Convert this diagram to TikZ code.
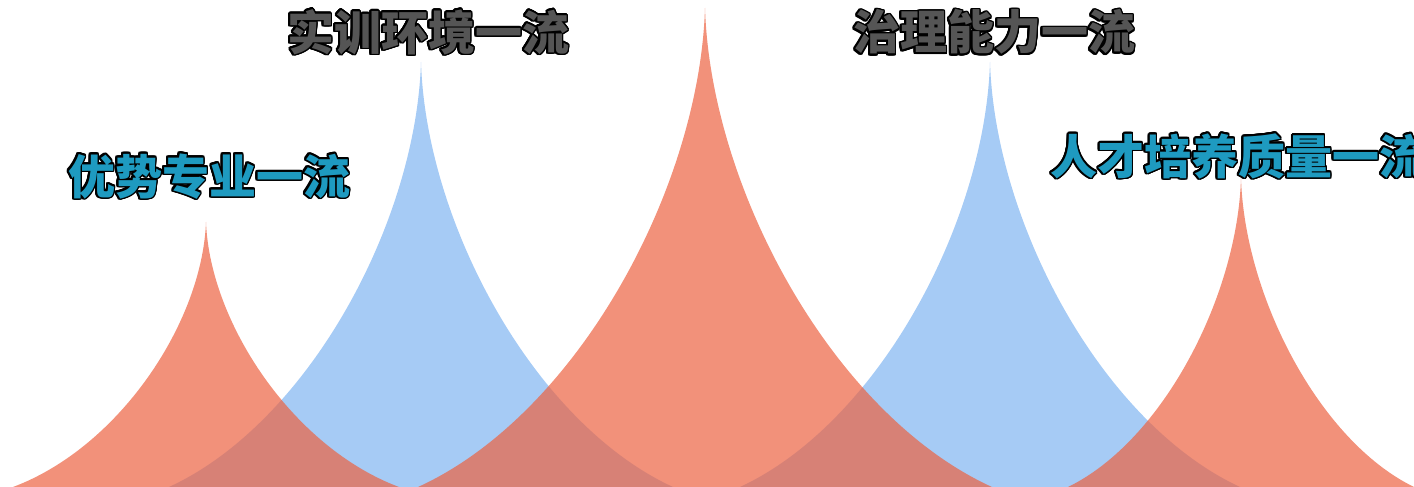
\documentclass[tikz,border=0pt]{standalone}
\usepackage{fontspec}
\usepackage[copies]{contour}
\newfontfamily\cjk{Noto Sans CJK SC}
\contourlength{1.6pt}
\contournumber{24}
\definecolor{peakred}{HTML}{EC6241}
\definecolor{peakblue}{HTML}{A6CBF5}
\definecolor{labelteal}{HTML}{1E9AC0}
\definecolor{labelgray}{HTML}{555555}

\begin{document}
\begin{tikzpicture}[x=1pt, y=1pt,
    redpeak/.style={fill=peakred, fill opacity=0.7},
    bluepeak/.style={fill=peakblue},
    title/.style={font=\cjk\bfseries\fontsize{47}{50}\selectfont, inner sep=0pt}]
    \useasboundingbox (0,0) rectangle (1414,487);
    \clip (0,0) rectangle (1414,487);
    % blue peaks first, red ones laid over them
    \foreach \px/\hw/\ht in {421/252/425, 990/250/425}
        \fill[bluepeak] ({\px-\hw},0) .. controls ({\px-0.45*\hw},{0.15*\ht}) and ({\px-0.02*\hw},{0.62*\ht}) .. (\px,\ht)
            .. controls ({\px+0.02*\hw},{0.62*\ht}) and ({\px+0.45*\hw},{0.15*\ht}) .. ({\px+\hw},0) -- cycle;
    \foreach \px/\hw/\ht in {206/193/265, 705/287/479, 1241/173/309}
        \fill[redpeak] ({\px-\hw},0) .. controls ({\px-0.45*\hw},{0.15*\ht}) and ({\px-0.02*\hw},{0.62*\ht}) .. (\px,\ht)
            .. controls ({\px+0.02*\hw},{0.62*\ht}) and ({\px+0.45*\hw},{0.15*\ht}) .. ({\px+\hw},0) -- cycle;
    % labels
    \node[title, text=labelteal] (major) at (209,310) {\contour{black}{优势专业一流}};
    \node[title, text=labelgray] (train) at (428,454) {\contour{black}{实训环境一流}};
    \node[title, text=labelgray] (govern) at (994,454) {\contour{black}{治理能力一流}};
    \node[title, text=labelteal, anchor=west] (talent) at (1050,330) {\contour{black}{人才培养质量一流}};
\end{tikzpicture}
\end{document}
